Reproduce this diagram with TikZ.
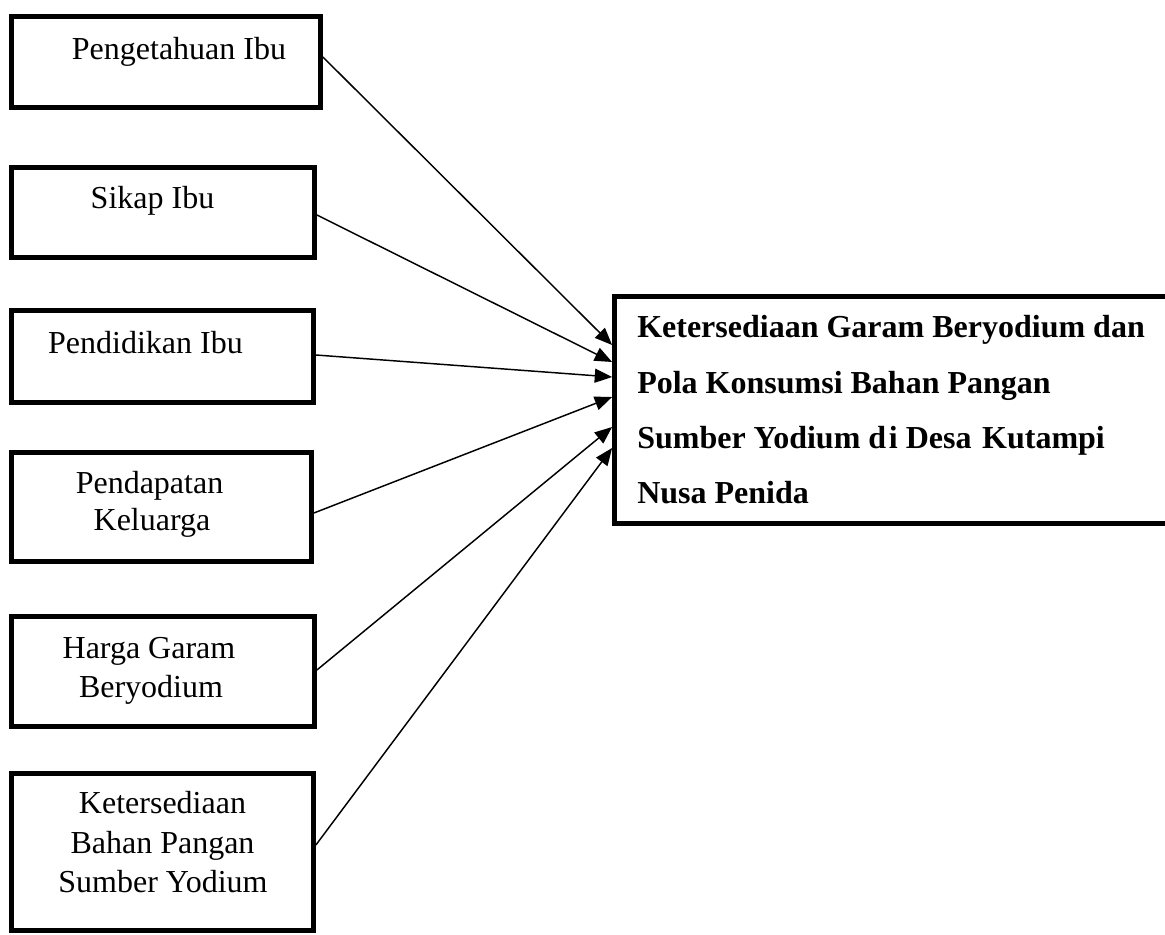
\documentclass[tikz,border=0pt]{standalone}
\usepackage{fontspec}
\setmainfont{Liberation Serif}
\usetikzlibrary{arrows.meta,calc}
\begin{document}
\begin{tikzpicture}[x=0.75pt,y=-0.75pt,
  lbox/.style={draw, line width=3.6pt, inner sep=0pt, fill=white},
  txt/.style={font=\fontsize{24}{29}\selectfont, inner sep=0pt, anchor=base},
  btxt/.style={font=\fontsize{24}{29}\selectfont\bfseries, inner sep=0pt, anchor=base west},
  conn/.style={line width=1.1pt, -{Triangle[length=13pt,width=10.5pt]}}]
\clip (0,0) rectangle (1165,935);
\fill[white] (0,0) rectangle (1165,935);
% left boxes
\node[lbox, minimum width=231.75pt, minimum height=68.25pt] (b1) at (166,62) {};
\node[lbox, minimum width=227.25pt, minimum height=67.5pt] (b2) at (163,212.5) {};
\node[lbox, minimum width=226.5pt, minimum height=69pt] (b3) at (162.5,356.5) {};
\node[lbox, minimum width=225pt, minimum height=81.75pt] (b4) at (161.5,507) {};
\node[lbox, minimum width=227.25pt, minimum height=82.5pt] (b5) at (163,671.5) {};
\node[lbox, minimum width=226.5pt, minimum height=117.75pt] (b6) at (162.5,852) {};
% right box
\node[lbox, minimum width=418.125pt, minimum height=170.25pt] (R) at (893.25,410) {};
% texts left
\node[txt] (t1) at (179,59) {Pengetahuan Ibu};
\node[txt] (t2) at (152.5,208) {Sikap Ibu};
\node[txt] (t3) at (145.5,353) {Pendidikan Ibu};
\node[txt] (t4a) at (149.5,493) {Pendapatan};
\node[txt] (t4b) at (152,530) {Keluarga};
\node[txt] (t5a) at (149,658) {Harga Garam};
\node[txt] (t5b) at (151,697) {Beryodium};
\node[txt] (t6a) at (162.5,813) {Ketersediaan};
\node[txt] (t6b) at (162.5,853) {Bahan Pangan};
\node[txt] (t6c) at (163,892) {Sumber Yodium};
% texts right
\node[btxt] (r1) at (637,337) {Ketersediaan Garam Beryodium dan};
\node[btxt] (r2) at (637,393) {Pola Konsumsi Bahan Pangan};
\node[btxt] (r3) at (637,448) {Sumber Yodium d\kern2pt i Desa\kern2pt\ Kutampi};
\node[btxt] (r4) at (637,503) {Nusa Penida};
% connectors
\draw[conn] ($(b1.east)+(0,-5)$) -- ($(R.west)+(0,-65)$);
\draw[conn] ($(b2.east)+(0,2.5)$) -- ($(R.west)+(0,-48)$);
\draw[conn] ($(b3.east)+(0,-1.5)$) -- ($(R.west)+(0,-33)$);
\draw[conn] ($(b4.east)+(0,6)$) -- ($(R.west)+(0,-13)$);
\draw[conn] ($(b5.east)+(0,-1.5)$) -- ($(R.west)+(0,17)$);
\draw[conn] ($(b6.east)+(0,-7)$) -- ($(R.west)+(0,38)$);
\end{tikzpicture}
\end{document}
